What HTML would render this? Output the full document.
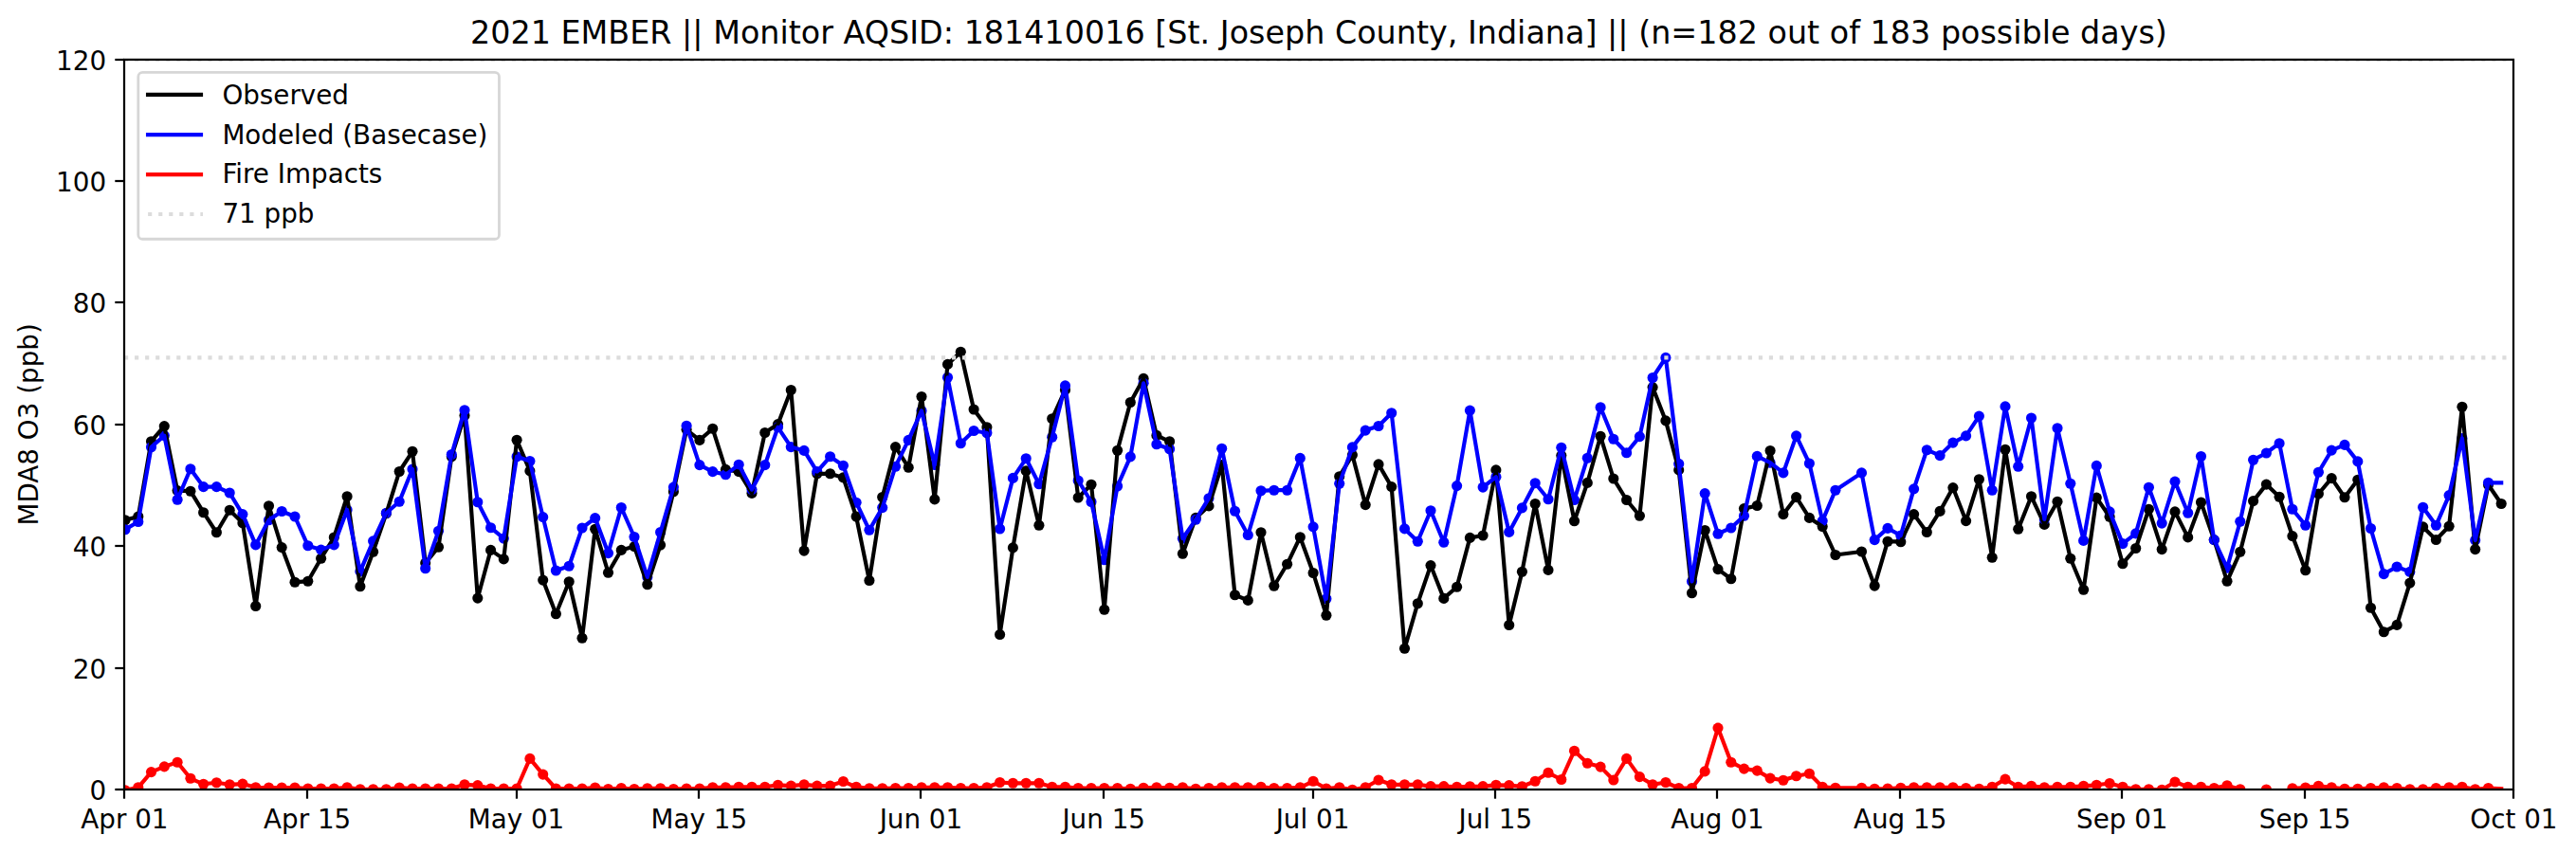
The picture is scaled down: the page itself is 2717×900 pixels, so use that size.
<!DOCTYPE html>
<html><head><meta charset="utf-8"><title>2021 EMBER MDA8 O3</title>
<style>html,body{margin:0;padding:0;background:#fff}svg{display:block}text{font-family:"DejaVu Sans","Liberation Sans",sans-serif;fill:#000}</style></head><body>
<svg width="2717" height="900" viewBox="0 0 2717 900">
<rect x="0" y="0" width="2717" height="900" fill="#fff"/>
<defs><clipPath id="ax"><rect x="131.0" y="62.8" width="2520.0" height="770.2"/></clipPath></defs>
<text x="1390.9" y="46.4" font-size="33.33" text-anchor="middle" textLength="1789.9" lengthAdjust="spacing">2021 EMBER || Monitor AQSID: 181410016 [St. Joseph County, Indiana] || (n=182 out of 183 possible days)</text>
<text transform="translate(40.3,447.9) rotate(-90)" font-size="27.78" text-anchor="middle">MDA8 O3 (ppb)</text>
<g clip-path="url(#ax)">
<circle cx="132.0" cy="548.7" r="5.56" fill="#000"/>
<circle cx="145.8" cy="545.0" r="5.56" fill="#000"/>
<circle cx="159.5" cy="465.7" r="5.56" fill="#000"/>
<circle cx="173.3" cy="449.6" r="5.56" fill="#000"/>
<circle cx="187.1" cy="517.6" r="5.56" fill="#000"/>
<circle cx="200.9" cy="518.2" r="5.56" fill="#000"/>
<circle cx="214.6" cy="540.7" r="5.56" fill="#000"/>
<circle cx="228.4" cy="561.8" r="5.56" fill="#000"/>
<circle cx="242.2" cy="538.3" r="5.56" fill="#000"/>
<circle cx="255.9" cy="551.7" r="5.56" fill="#000"/>
<circle cx="269.7" cy="639.5" r="5.56" fill="#000"/>
<circle cx="283.5" cy="533.7" r="5.56" fill="#000"/>
<circle cx="297.2" cy="577.6" r="5.56" fill="#000"/>
<circle cx="311.0" cy="614.2" r="5.56" fill="#000"/>
<circle cx="324.8" cy="613.3" r="5.56" fill="#000"/>
<circle cx="338.6" cy="589.2" r="5.56" fill="#000"/>
<circle cx="352.3" cy="567.0" r="5.56" fill="#000"/>
<circle cx="366.1" cy="523.7" r="5.56" fill="#000"/>
<circle cx="379.9" cy="618.8" r="5.56" fill="#000"/>
<circle cx="393.6" cy="582.2" r="5.56" fill="#000"/>
<circle cx="407.4" cy="541.8" r="5.56" fill="#000"/>
<circle cx="421.2" cy="497.5" r="5.56" fill="#000"/>
<circle cx="435.0" cy="476.3" r="5.56" fill="#000"/>
<circle cx="448.7" cy="594.1" r="5.56" fill="#000"/>
<circle cx="462.5" cy="577.3" r="5.56" fill="#000"/>
<circle cx="476.3" cy="481.7" r="5.56" fill="#000"/>
<circle cx="490.0" cy="438.4" r="5.56" fill="#000"/>
<circle cx="503.8" cy="631.1" r="5.56" fill="#000"/>
<circle cx="517.6" cy="580.4" r="5.56" fill="#000"/>
<circle cx="531.3" cy="589.9" r="5.56" fill="#000"/>
<circle cx="545.1" cy="464.3" r="5.56" fill="#000"/>
<circle cx="558.9" cy="496.9" r="5.56" fill="#000"/>
<circle cx="572.7" cy="612.1" r="5.56" fill="#000"/>
<circle cx="586.4" cy="647.8" r="5.56" fill="#000"/>
<circle cx="600.2" cy="613.7" r="5.56" fill="#000"/>
<circle cx="614.0" cy="673.2" r="5.56" fill="#000"/>
<circle cx="627.7" cy="558.3" r="5.56" fill="#000"/>
<circle cx="641.5" cy="604.2" r="5.56" fill="#000"/>
<circle cx="655.3" cy="580.4" r="5.56" fill="#000"/>
<circle cx="669.0" cy="576.6" r="5.56" fill="#000"/>
<circle cx="682.8" cy="616.8" r="5.56" fill="#000"/>
<circle cx="696.6" cy="575.1" r="5.56" fill="#000"/>
<circle cx="710.4" cy="518.8" r="5.56" fill="#000"/>
<circle cx="724.1" cy="453.3" r="5.56" fill="#000"/>
<circle cx="737.9" cy="464.4" r="5.56" fill="#000"/>
<circle cx="751.7" cy="452.3" r="5.56" fill="#000"/>
<circle cx="765.4" cy="495.4" r="5.56" fill="#000"/>
<circle cx="779.2" cy="497.6" r="5.56" fill="#000"/>
<circle cx="793.0" cy="520.4" r="5.56" fill="#000"/>
<circle cx="806.8" cy="456.5" r="5.56" fill="#000"/>
<circle cx="820.5" cy="447.6" r="5.56" fill="#000"/>
<circle cx="834.3" cy="411.5" r="5.56" fill="#000"/>
<circle cx="848.1" cy="581.1" r="5.56" fill="#000"/>
<circle cx="861.8" cy="499.8" r="5.56" fill="#000"/>
<circle cx="875.6" cy="499.8" r="5.56" fill="#000"/>
<circle cx="889.4" cy="503.9" r="5.56" fill="#000"/>
<circle cx="903.1" cy="545.1" r="5.56" fill="#000"/>
<circle cx="916.9" cy="612.5" r="5.56" fill="#000"/>
<circle cx="930.7" cy="524.5" r="5.56" fill="#000"/>
<circle cx="944.5" cy="471.6" r="5.56" fill="#000"/>
<circle cx="958.2" cy="493.2" r="5.56" fill="#000"/>
<circle cx="972.0" cy="418.5" r="5.56" fill="#000"/>
<circle cx="985.8" cy="526.9" r="5.56" fill="#000"/>
<circle cx="999.5" cy="384.4" r="5.56" fill="#000"/>
<circle cx="1013.3" cy="371.3" r="5.56" fill="#000"/>
<circle cx="1027.1" cy="432.0" r="5.56" fill="#000"/>
<circle cx="1040.9" cy="450.8" r="5.56" fill="#000"/>
<circle cx="1054.6" cy="669.5" r="5.56" fill="#000"/>
<circle cx="1068.4" cy="577.9" r="5.56" fill="#000"/>
<circle cx="1082.2" cy="496.9" r="5.56" fill="#000"/>
<circle cx="1095.9" cy="554.3" r="5.56" fill="#000"/>
<circle cx="1109.7" cy="441.8" r="5.56" fill="#000"/>
<circle cx="1123.5" cy="411.4" r="5.56" fill="#000"/>
<circle cx="1137.2" cy="525.0" r="5.56" fill="#000"/>
<circle cx="1151.0" cy="511.2" r="5.56" fill="#000"/>
<circle cx="1164.8" cy="643.2" r="5.56" fill="#000"/>
<circle cx="1178.6" cy="475.2" r="5.56" fill="#000"/>
<circle cx="1192.3" cy="424.5" r="5.56" fill="#000"/>
<circle cx="1206.1" cy="399.4" r="5.56" fill="#000"/>
<circle cx="1219.9" cy="459.4" r="5.56" fill="#000"/>
<circle cx="1233.6" cy="465.8" r="5.56" fill="#000"/>
<circle cx="1247.4" cy="584.3" r="5.56" fill="#000"/>
<circle cx="1261.2" cy="546.4" r="5.56" fill="#000"/>
<circle cx="1275.0" cy="533.9" r="5.56" fill="#000"/>
<circle cx="1288.7" cy="490.6" r="5.56" fill="#000"/>
<circle cx="1302.5" cy="627.8" r="5.56" fill="#000"/>
<circle cx="1316.3" cy="633.4" r="5.56" fill="#000"/>
<circle cx="1330.0" cy="561.8" r="5.56" fill="#000"/>
<circle cx="1343.8" cy="618.3" r="5.56" fill="#000"/>
<circle cx="1357.6" cy="595.3" r="5.56" fill="#000"/>
<circle cx="1371.3" cy="566.7" r="5.56" fill="#000"/>
<circle cx="1385.1" cy="604.5" r="5.56" fill="#000"/>
<circle cx="1398.9" cy="649.2" r="5.56" fill="#000"/>
<circle cx="1412.7" cy="502.7" r="5.56" fill="#000"/>
<circle cx="1426.4" cy="480.1" r="5.56" fill="#000"/>
<circle cx="1440.2" cy="532.6" r="5.56" fill="#000"/>
<circle cx="1454.0" cy="489.9" r="5.56" fill="#000"/>
<circle cx="1467.7" cy="513.6" r="5.56" fill="#000"/>
<circle cx="1481.5" cy="684.3" r="5.56" fill="#000"/>
<circle cx="1495.3" cy="636.7" r="5.56" fill="#000"/>
<circle cx="1509.0" cy="596.6" r="5.56" fill="#000"/>
<circle cx="1522.8" cy="631.4" r="5.56" fill="#000"/>
<circle cx="1536.6" cy="619.3" r="5.56" fill="#000"/>
<circle cx="1550.4" cy="567.4" r="5.56" fill="#000"/>
<circle cx="1564.1" cy="565.0" r="5.56" fill="#000"/>
<circle cx="1577.9" cy="495.9" r="5.56" fill="#000"/>
<circle cx="1591.7" cy="659.5" r="5.56" fill="#000"/>
<circle cx="1605.4" cy="603.2" r="5.56" fill="#000"/>
<circle cx="1619.2" cy="531.5" r="5.56" fill="#000"/>
<circle cx="1633.0" cy="601.4" r="5.56" fill="#000"/>
<circle cx="1646.8" cy="480.6" r="5.56" fill="#000"/>
<circle cx="1660.5" cy="549.7" r="5.56" fill="#000"/>
<circle cx="1674.3" cy="509.4" r="5.56" fill="#000"/>
<circle cx="1688.1" cy="460.3" r="5.56" fill="#000"/>
<circle cx="1701.8" cy="505.0" r="5.56" fill="#000"/>
<circle cx="1715.6" cy="527.5" r="5.56" fill="#000"/>
<circle cx="1729.4" cy="544.3" r="5.56" fill="#000"/>
<circle cx="1743.1" cy="408.6" r="5.56" fill="#000"/>
<circle cx="1756.9" cy="443.9" r="5.56" fill="#000"/>
<circle cx="1770.7" cy="495.9" r="5.56" fill="#000"/>
<circle cx="1784.5" cy="625.7" r="5.56" fill="#000"/>
<circle cx="1798.2" cy="559.5" r="5.56" fill="#000"/>
<circle cx="1812.0" cy="600.6" r="5.56" fill="#000"/>
<circle cx="1825.8" cy="610.8" r="5.56" fill="#000"/>
<circle cx="1839.5" cy="536.6" r="5.56" fill="#000"/>
<circle cx="1853.3" cy="533.5" r="5.56" fill="#000"/>
<circle cx="1867.1" cy="475.5" r="5.56" fill="#000"/>
<circle cx="1880.9" cy="542.6" r="5.56" fill="#000"/>
<circle cx="1894.6" cy="524.6" r="5.56" fill="#000"/>
<circle cx="1908.4" cy="546.4" r="5.56" fill="#000"/>
<circle cx="1922.2" cy="555.6" r="5.56" fill="#000"/>
<circle cx="1935.9" cy="585.5" r="5.56" fill="#000"/>
<circle cx="1963.5" cy="582.0" r="5.56" fill="#000"/>
<circle cx="1977.2" cy="618.1" r="5.56" fill="#000"/>
<circle cx="1991.0" cy="571.2" r="5.56" fill="#000"/>
<circle cx="2004.8" cy="571.7" r="5.56" fill="#000"/>
<circle cx="2018.6" cy="542.6" r="5.56" fill="#000"/>
<circle cx="2032.3" cy="561.5" r="5.56" fill="#000"/>
<circle cx="2046.1" cy="539.4" r="5.56" fill="#000"/>
<circle cx="2059.9" cy="514.6" r="5.56" fill="#000"/>
<circle cx="2073.6" cy="549.6" r="5.56" fill="#000"/>
<circle cx="2087.4" cy="505.7" r="5.56" fill="#000"/>
<circle cx="2101.2" cy="588.2" r="5.56" fill="#000"/>
<circle cx="2115.0" cy="474.2" r="5.56" fill="#000"/>
<circle cx="2128.7" cy="558.2" r="5.56" fill="#000"/>
<circle cx="2142.5" cy="523.8" r="5.56" fill="#000"/>
<circle cx="2156.3" cy="553.4" r="5.56" fill="#000"/>
<circle cx="2170.0" cy="529.2" r="5.56" fill="#000"/>
<circle cx="2183.8" cy="589.3" r="5.56" fill="#000"/>
<circle cx="2197.6" cy="622.2" r="5.56" fill="#000"/>
<circle cx="2211.3" cy="525.1" r="5.56" fill="#000"/>
<circle cx="2225.1" cy="545.3" r="5.56" fill="#000"/>
<circle cx="2238.9" cy="594.7" r="5.56" fill="#000"/>
<circle cx="2252.7" cy="578.5" r="5.56" fill="#000"/>
<circle cx="2266.4" cy="537.3" r="5.56" fill="#000"/>
<circle cx="2280.2" cy="579.6" r="5.56" fill="#000"/>
<circle cx="2294.0" cy="539.9" r="5.56" fill="#000"/>
<circle cx="2307.7" cy="566.9" r="5.56" fill="#000"/>
<circle cx="2321.5" cy="530.0" r="5.56" fill="#000"/>
<circle cx="2335.3" cy="569.6" r="5.56" fill="#000"/>
<circle cx="2349.0" cy="613.3" r="5.56" fill="#000"/>
<circle cx="2362.8" cy="582.3" r="5.56" fill="#000"/>
<circle cx="2376.6" cy="528.6" r="5.56" fill="#000"/>
<circle cx="2390.4" cy="511.1" r="5.56" fill="#000"/>
<circle cx="2404.1" cy="524.3" r="5.56" fill="#000"/>
<circle cx="2417.9" cy="565.6" r="5.56" fill="#000"/>
<circle cx="2431.7" cy="601.8" r="5.56" fill="#000"/>
<circle cx="2445.4" cy="521.0" r="5.56" fill="#000"/>
<circle cx="2459.2" cy="504.6" r="5.56" fill="#000"/>
<circle cx="2473.0" cy="524.8" r="5.56" fill="#000"/>
<circle cx="2486.8" cy="506.2" r="5.56" fill="#000"/>
<circle cx="2500.5" cy="641.3" r="5.56" fill="#000"/>
<circle cx="2514.3" cy="666.7" r="5.56" fill="#000"/>
<circle cx="2528.1" cy="659.4" r="5.56" fill="#000"/>
<circle cx="2541.8" cy="615.1" r="5.56" fill="#000"/>
<circle cx="2555.6" cy="555.9" r="5.56" fill="#000"/>
<circle cx="2569.4" cy="569.5" r="5.56" fill="#000"/>
<circle cx="2583.1" cy="555.2" r="5.56" fill="#000"/>
<circle cx="2596.9" cy="429.2" r="5.56" fill="#000"/>
<circle cx="2610.7" cy="579.6" r="5.56" fill="#000"/>
<circle cx="2624.5" cy="511.5" r="5.56" fill="#000"/>
<circle cx="2638.2" cy="531.5" r="5.56" fill="#000"/>
<circle cx="132.0" cy="558.7" r="5.56" fill="#0000ff"/>
<circle cx="145.8" cy="550.5" r="5.56" fill="#0000ff"/>
<circle cx="159.5" cy="471.8" r="5.56" fill="#0000ff"/>
<circle cx="173.3" cy="459.6" r="5.56" fill="#0000ff"/>
<circle cx="187.1" cy="527.3" r="5.56" fill="#0000ff"/>
<circle cx="200.9" cy="494.7" r="5.56" fill="#0000ff"/>
<circle cx="214.6" cy="513.6" r="5.56" fill="#0000ff"/>
<circle cx="228.4" cy="513.6" r="5.56" fill="#0000ff"/>
<circle cx="242.2" cy="520.0" r="5.56" fill="#0000ff"/>
<circle cx="255.9" cy="542.6" r="5.56" fill="#0000ff"/>
<circle cx="269.7" cy="574.9" r="5.56" fill="#0000ff"/>
<circle cx="283.5" cy="548.7" r="5.56" fill="#0000ff"/>
<circle cx="297.2" cy="539.5" r="5.56" fill="#0000ff"/>
<circle cx="311.0" cy="545.0" r="5.56" fill="#0000ff"/>
<circle cx="324.8" cy="575.8" r="5.56" fill="#0000ff"/>
<circle cx="338.6" cy="580.1" r="5.56" fill="#0000ff"/>
<circle cx="352.3" cy="574.9" r="5.56" fill="#0000ff"/>
<circle cx="366.1" cy="538.0" r="5.56" fill="#0000ff"/>
<circle cx="379.9" cy="602.9" r="5.56" fill="#0000ff"/>
<circle cx="393.6" cy="570.9" r="5.56" fill="#0000ff"/>
<circle cx="407.4" cy="541.2" r="5.56" fill="#0000ff"/>
<circle cx="421.2" cy="529.2" r="5.56" fill="#0000ff"/>
<circle cx="435.0" cy="495.0" r="5.56" fill="#0000ff"/>
<circle cx="448.7" cy="599.7" r="5.56" fill="#0000ff"/>
<circle cx="462.5" cy="560.2" r="5.56" fill="#0000ff"/>
<circle cx="476.3" cy="479.5" r="5.56" fill="#0000ff"/>
<circle cx="490.0" cy="432.7" r="5.56" fill="#0000ff"/>
<circle cx="503.8" cy="529.8" r="5.56" fill="#0000ff"/>
<circle cx="517.6" cy="556.7" r="5.56" fill="#0000ff"/>
<circle cx="531.3" cy="568.1" r="5.56" fill="#0000ff"/>
<circle cx="545.1" cy="481.7" r="5.56" fill="#0000ff"/>
<circle cx="558.9" cy="486.5" r="5.56" fill="#0000ff"/>
<circle cx="572.7" cy="545.6" r="5.56" fill="#0000ff"/>
<circle cx="586.4" cy="602.0" r="5.56" fill="#0000ff"/>
<circle cx="600.2" cy="597.2" r="5.56" fill="#0000ff"/>
<circle cx="614.0" cy="557.0" r="5.56" fill="#0000ff"/>
<circle cx="627.7" cy="546.6" r="5.56" fill="#0000ff"/>
<circle cx="641.5" cy="583.6" r="5.56" fill="#0000ff"/>
<circle cx="655.3" cy="535.5" r="5.56" fill="#0000ff"/>
<circle cx="669.0" cy="566.5" r="5.56" fill="#0000ff"/>
<circle cx="682.8" cy="608.9" r="5.56" fill="#0000ff"/>
<circle cx="696.6" cy="561.5" r="5.56" fill="#0000ff"/>
<circle cx="710.4" cy="514.1" r="5.56" fill="#0000ff"/>
<circle cx="724.1" cy="449.2" r="5.56" fill="#0000ff"/>
<circle cx="737.9" cy="490.6" r="5.56" fill="#0000ff"/>
<circle cx="751.7" cy="497.6" r="5.56" fill="#0000ff"/>
<circle cx="765.4" cy="500.8" r="5.56" fill="#0000ff"/>
<circle cx="779.2" cy="490.3" r="5.56" fill="#0000ff"/>
<circle cx="793.0" cy="516.6" r="5.56" fill="#0000ff"/>
<circle cx="806.8" cy="490.6" r="5.56" fill="#0000ff"/>
<circle cx="820.5" cy="450.8" r="5.56" fill="#0000ff"/>
<circle cx="834.3" cy="471.6" r="5.56" fill="#0000ff"/>
<circle cx="848.1" cy="475.4" r="5.56" fill="#0000ff"/>
<circle cx="861.8" cy="497.6" r="5.56" fill="#0000ff"/>
<circle cx="875.6" cy="481.8" r="5.56" fill="#0000ff"/>
<circle cx="889.4" cy="491.3" r="5.56" fill="#0000ff"/>
<circle cx="903.1" cy="530.2" r="5.56" fill="#0000ff"/>
<circle cx="916.9" cy="559.3" r="5.56" fill="#0000ff"/>
<circle cx="930.7" cy="535.6" r="5.56" fill="#0000ff"/>
<circle cx="944.5" cy="492.2" r="5.56" fill="#0000ff"/>
<circle cx="958.2" cy="464.4" r="5.56" fill="#0000ff"/>
<circle cx="972.0" cy="433.4" r="5.56" fill="#0000ff"/>
<circle cx="985.8" cy="490.5" r="5.56" fill="#0000ff"/>
<circle cx="999.5" cy="398.3" r="5.56" fill="#0000ff"/>
<circle cx="1013.3" cy="467.7" r="5.56" fill="#0000ff"/>
<circle cx="1027.1" cy="454.5" r="5.56" fill="#0000ff"/>
<circle cx="1040.9" cy="456.8" r="5.56" fill="#0000ff"/>
<circle cx="1054.6" cy="558.0" r="5.56" fill="#0000ff"/>
<circle cx="1068.4" cy="504.4" r="5.56" fill="#0000ff"/>
<circle cx="1082.2" cy="483.8" r="5.56" fill="#0000ff"/>
<circle cx="1095.9" cy="510.8" r="5.56" fill="#0000ff"/>
<circle cx="1109.7" cy="461.3" r="5.56" fill="#0000ff"/>
<circle cx="1123.5" cy="406.9" r="5.56" fill="#0000ff"/>
<circle cx="1137.2" cy="507.0" r="5.56" fill="#0000ff"/>
<circle cx="1151.0" cy="529.5" r="5.56" fill="#0000ff"/>
<circle cx="1164.8" cy="590.7" r="5.56" fill="#0000ff"/>
<circle cx="1178.6" cy="513.0" r="5.56" fill="#0000ff"/>
<circle cx="1192.3" cy="481.9" r="5.56" fill="#0000ff"/>
<circle cx="1206.1" cy="404.3" r="5.56" fill="#0000ff"/>
<circle cx="1219.9" cy="468.8" r="5.56" fill="#0000ff"/>
<circle cx="1233.6" cy="473.7" r="5.56" fill="#0000ff"/>
<circle cx="1247.4" cy="568.2" r="5.56" fill="#0000ff"/>
<circle cx="1261.2" cy="548.3" r="5.56" fill="#0000ff"/>
<circle cx="1275.0" cy="525.7" r="5.56" fill="#0000ff"/>
<circle cx="1288.7" cy="473.2" r="5.56" fill="#0000ff"/>
<circle cx="1302.5" cy="539.2" r="5.56" fill="#0000ff"/>
<circle cx="1316.3" cy="564.5" r="5.56" fill="#0000ff"/>
<circle cx="1330.0" cy="517.8" r="5.56" fill="#0000ff"/>
<circle cx="1343.8" cy="517.2" r="5.56" fill="#0000ff"/>
<circle cx="1357.6" cy="517.2" r="5.56" fill="#0000ff"/>
<circle cx="1371.3" cy="483.4" r="5.56" fill="#0000ff"/>
<circle cx="1385.1" cy="555.9" r="5.56" fill="#0000ff"/>
<circle cx="1398.9" cy="631.8" r="5.56" fill="#0000ff"/>
<circle cx="1412.7" cy="510.3" r="5.56" fill="#0000ff"/>
<circle cx="1426.4" cy="471.9" r="5.56" fill="#0000ff"/>
<circle cx="1440.2" cy="454.1" r="5.56" fill="#0000ff"/>
<circle cx="1454.0" cy="449.5" r="5.56" fill="#0000ff"/>
<circle cx="1467.7" cy="435.8" r="5.56" fill="#0000ff"/>
<circle cx="1481.5" cy="557.9" r="5.56" fill="#0000ff"/>
<circle cx="1495.3" cy="571.3" r="5.56" fill="#0000ff"/>
<circle cx="1509.0" cy="538.8" r="5.56" fill="#0000ff"/>
<circle cx="1522.8" cy="572.3" r="5.56" fill="#0000ff"/>
<circle cx="1536.6" cy="512.6" r="5.56" fill="#0000ff"/>
<circle cx="1550.4" cy="433.1" r="5.56" fill="#0000ff"/>
<circle cx="1564.1" cy="514.1" r="5.56" fill="#0000ff"/>
<circle cx="1577.9" cy="503.2" r="5.56" fill="#0000ff"/>
<circle cx="1591.7" cy="561.4" r="5.56" fill="#0000ff"/>
<circle cx="1605.4" cy="535.9" r="5.56" fill="#0000ff"/>
<circle cx="1619.2" cy="509.7" r="5.56" fill="#0000ff"/>
<circle cx="1633.0" cy="526.8" r="5.56" fill="#0000ff"/>
<circle cx="1646.8" cy="472.3" r="5.56" fill="#0000ff"/>
<circle cx="1660.5" cy="527.5" r="5.56" fill="#0000ff"/>
<circle cx="1674.3" cy="483.2" r="5.56" fill="#0000ff"/>
<circle cx="1688.1" cy="429.7" r="5.56" fill="#0000ff"/>
<circle cx="1701.8" cy="463.2" r="5.56" fill="#0000ff"/>
<circle cx="1715.6" cy="477.7" r="5.56" fill="#0000ff"/>
<circle cx="1729.4" cy="460.6" r="5.56" fill="#0000ff"/>
<circle cx="1743.1" cy="398.5" r="5.56" fill="#0000ff"/>
<circle cx="1756.9" cy="377.4" r="5.56" fill="#0000ff"/>
<circle cx="1770.7" cy="489.4" r="5.56" fill="#0000ff"/>
<circle cx="1784.5" cy="613.4" r="5.56" fill="#0000ff"/>
<circle cx="1798.2" cy="520.6" r="5.56" fill="#0000ff"/>
<circle cx="1812.0" cy="563.2" r="5.56" fill="#0000ff"/>
<circle cx="1825.8" cy="557.0" r="5.56" fill="#0000ff"/>
<circle cx="1839.5" cy="544.3" r="5.56" fill="#0000ff"/>
<circle cx="1853.3" cy="481.4" r="5.56" fill="#0000ff"/>
<circle cx="1867.1" cy="488.2" r="5.56" fill="#0000ff"/>
<circle cx="1880.9" cy="498.9" r="5.56" fill="#0000ff"/>
<circle cx="1894.6" cy="459.9" r="5.56" fill="#0000ff"/>
<circle cx="1908.4" cy="489.0" r="5.56" fill="#0000ff"/>
<circle cx="1922.2" cy="549.6" r="5.56" fill="#0000ff"/>
<circle cx="1935.9" cy="517.3" r="5.56" fill="#0000ff"/>
<circle cx="1963.5" cy="498.9" r="5.56" fill="#0000ff"/>
<circle cx="1977.2" cy="569.6" r="5.56" fill="#0000ff"/>
<circle cx="1991.0" cy="557.4" r="5.56" fill="#0000ff"/>
<circle cx="2004.8" cy="565.0" r="5.56" fill="#0000ff"/>
<circle cx="2018.6" cy="515.9" r="5.56" fill="#0000ff"/>
<circle cx="2032.3" cy="474.7" r="5.56" fill="#0000ff"/>
<circle cx="2046.1" cy="480.6" r="5.56" fill="#0000ff"/>
<circle cx="2059.9" cy="467.1" r="5.56" fill="#0000ff"/>
<circle cx="2073.6" cy="459.9" r="5.56" fill="#0000ff"/>
<circle cx="2087.4" cy="439.1" r="5.56" fill="#0000ff"/>
<circle cx="2101.2" cy="517.3" r="5.56" fill="#0000ff"/>
<circle cx="2115.0" cy="428.9" r="5.56" fill="#0000ff"/>
<circle cx="2128.7" cy="492.2" r="5.56" fill="#0000ff"/>
<circle cx="2142.5" cy="441.0" r="5.56" fill="#0000ff"/>
<circle cx="2156.3" cy="548.0" r="5.56" fill="#0000ff"/>
<circle cx="2170.0" cy="451.8" r="5.56" fill="#0000ff"/>
<circle cx="2183.8" cy="510.3" r="5.56" fill="#0000ff"/>
<circle cx="2197.6" cy="570.4" r="5.56" fill="#0000ff"/>
<circle cx="2211.3" cy="491.4" r="5.56" fill="#0000ff"/>
<circle cx="2225.1" cy="539.9" r="5.56" fill="#0000ff"/>
<circle cx="2238.9" cy="573.6" r="5.56" fill="#0000ff"/>
<circle cx="2252.7" cy="562.9" r="5.56" fill="#0000ff"/>
<circle cx="2266.4" cy="514.3" r="5.56" fill="#0000ff"/>
<circle cx="2280.2" cy="552.1" r="5.56" fill="#0000ff"/>
<circle cx="2294.0" cy="508.1" r="5.56" fill="#0000ff"/>
<circle cx="2307.7" cy="541.3" r="5.56" fill="#0000ff"/>
<circle cx="2321.5" cy="481.5" r="5.56" fill="#0000ff"/>
<circle cx="2335.3" cy="569.6" r="5.56" fill="#0000ff"/>
<circle cx="2349.0" cy="599.2" r="5.56" fill="#0000ff"/>
<circle cx="2362.8" cy="550.2" r="5.56" fill="#0000ff"/>
<circle cx="2376.6" cy="485.2" r="5.56" fill="#0000ff"/>
<circle cx="2390.4" cy="478.0" r="5.56" fill="#0000ff"/>
<circle cx="2404.1" cy="467.7" r="5.56" fill="#0000ff"/>
<circle cx="2417.9" cy="537.3" r="5.56" fill="#0000ff"/>
<circle cx="2431.7" cy="554.3" r="5.56" fill="#0000ff"/>
<circle cx="2445.4" cy="498.3" r="5.56" fill="#0000ff"/>
<circle cx="2459.2" cy="475.1" r="5.56" fill="#0000ff"/>
<circle cx="2473.0" cy="469.4" r="5.56" fill="#0000ff"/>
<circle cx="2486.8" cy="486.9" r="5.56" fill="#0000ff"/>
<circle cx="2500.5" cy="557.5" r="5.56" fill="#0000ff"/>
<circle cx="2514.3" cy="605.6" r="5.56" fill="#0000ff"/>
<circle cx="2528.1" cy="598.0" r="5.56" fill="#0000ff"/>
<circle cx="2541.8" cy="603.4" r="5.56" fill="#0000ff"/>
<circle cx="2555.6" cy="535.3" r="5.56" fill="#0000ff"/>
<circle cx="2569.4" cy="554.3" r="5.56" fill="#0000ff"/>
<circle cx="2583.1" cy="522.6" r="5.56" fill="#0000ff"/>
<circle cx="2596.9" cy="462.5" r="5.56" fill="#0000ff"/>
<circle cx="2610.7" cy="570.1" r="5.56" fill="#0000ff"/>
<circle cx="2624.5" cy="509.3" r="5.56" fill="#0000ff"/>
<circle cx="132.0" cy="833.8" r="5.56" fill="#ff0000"/>
<circle cx="145.8" cy="830.8" r="5.56" fill="#ff0000"/>
<circle cx="159.5" cy="814.6" r="5.56" fill="#ff0000"/>
<circle cx="173.3" cy="808.9" r="5.56" fill="#ff0000"/>
<circle cx="187.1" cy="804.2" r="5.56" fill="#ff0000"/>
<circle cx="200.9" cy="821.3" r="5.56" fill="#ff0000"/>
<circle cx="214.6" cy="827.3" r="5.56" fill="#ff0000"/>
<circle cx="228.4" cy="825.8" r="5.56" fill="#ff0000"/>
<circle cx="242.2" cy="827.8" r="5.56" fill="#ff0000"/>
<circle cx="255.9" cy="827.1" r="5.56" fill="#ff0000"/>
<circle cx="269.7" cy="830.8" r="5.56" fill="#ff0000"/>
<circle cx="283.5" cy="831.0" r="5.56" fill="#ff0000"/>
<circle cx="297.2" cy="831.0" r="5.56" fill="#ff0000"/>
<circle cx="311.0" cy="831.0" r="5.56" fill="#ff0000"/>
<circle cx="324.8" cy="832.0" r="5.56" fill="#ff0000"/>
<circle cx="338.6" cy="832.0" r="5.56" fill="#ff0000"/>
<circle cx="352.3" cy="832.0" r="5.56" fill="#ff0000"/>
<circle cx="366.1" cy="830.8" r="5.56" fill="#ff0000"/>
<circle cx="379.9" cy="832.8" r="5.56" fill="#ff0000"/>
<circle cx="393.6" cy="832.8" r="5.56" fill="#ff0000"/>
<circle cx="407.4" cy="832.8" r="5.56" fill="#ff0000"/>
<circle cx="421.2" cy="831.0" r="5.56" fill="#ff0000"/>
<circle cx="435.0" cy="832.0" r="5.56" fill="#ff0000"/>
<circle cx="448.7" cy="832.0" r="5.56" fill="#ff0000"/>
<circle cx="462.5" cy="832.0" r="5.56" fill="#ff0000"/>
<circle cx="476.3" cy="832.0" r="5.56" fill="#ff0000"/>
<circle cx="490.0" cy="827.8" r="5.56" fill="#ff0000"/>
<circle cx="503.8" cy="828.6" r="5.56" fill="#ff0000"/>
<circle cx="517.6" cy="832.0" r="5.56" fill="#ff0000"/>
<circle cx="531.3" cy="832.0" r="5.56" fill="#ff0000"/>
<circle cx="545.1" cy="832.0" r="5.56" fill="#ff0000"/>
<circle cx="558.9" cy="800.4" r="5.56" fill="#ff0000"/>
<circle cx="572.7" cy="817.1" r="5.56" fill="#ff0000"/>
<circle cx="586.4" cy="832.0" r="5.56" fill="#ff0000"/>
<circle cx="600.2" cy="832.0" r="5.56" fill="#ff0000"/>
<circle cx="614.0" cy="832.0" r="5.56" fill="#ff0000"/>
<circle cx="627.7" cy="831.0" r="5.56" fill="#ff0000"/>
<circle cx="641.5" cy="832.5" r="5.56" fill="#ff0000"/>
<circle cx="655.3" cy="831.5" r="5.56" fill="#ff0000"/>
<circle cx="669.0" cy="832.5" r="5.56" fill="#ff0000"/>
<circle cx="682.8" cy="831.8" r="5.56" fill="#ff0000"/>
<circle cx="696.6" cy="831.8" r="5.56" fill="#ff0000"/>
<circle cx="710.4" cy="832.5" r="5.56" fill="#ff0000"/>
<circle cx="724.1" cy="832.0" r="5.56" fill="#ff0000"/>
<circle cx="737.9" cy="832.0" r="5.56" fill="#ff0000"/>
<circle cx="751.7" cy="830.8" r="5.56" fill="#ff0000"/>
<circle cx="765.4" cy="830.8" r="5.56" fill="#ff0000"/>
<circle cx="779.2" cy="830.3" r="5.56" fill="#ff0000"/>
<circle cx="793.0" cy="830.3" r="5.56" fill="#ff0000"/>
<circle cx="806.8" cy="830.3" r="5.56" fill="#ff0000"/>
<circle cx="820.5" cy="828.3" r="5.56" fill="#ff0000"/>
<circle cx="834.3" cy="829.1" r="5.56" fill="#ff0000"/>
<circle cx="848.1" cy="827.8" r="5.56" fill="#ff0000"/>
<circle cx="861.8" cy="829.1" r="5.56" fill="#ff0000"/>
<circle cx="875.6" cy="829.1" r="5.56" fill="#ff0000"/>
<circle cx="889.4" cy="824.5" r="5.56" fill="#ff0000"/>
<circle cx="903.1" cy="830.3" r="5.56" fill="#ff0000"/>
<circle cx="916.9" cy="831.8" r="5.56" fill="#ff0000"/>
<circle cx="930.7" cy="831.8" r="5.56" fill="#ff0000"/>
<circle cx="944.5" cy="831.5" r="5.56" fill="#ff0000"/>
<circle cx="958.2" cy="831.5" r="5.56" fill="#ff0000"/>
<circle cx="972.0" cy="830.8" r="5.56" fill="#ff0000"/>
<circle cx="985.8" cy="830.8" r="5.56" fill="#ff0000"/>
<circle cx="999.5" cy="830.8" r="5.56" fill="#ff0000"/>
<circle cx="1013.3" cy="831.5" r="5.56" fill="#ff0000"/>
<circle cx="1027.1" cy="831.5" r="5.56" fill="#ff0000"/>
<circle cx="1040.9" cy="830.8" r="5.56" fill="#ff0000"/>
<circle cx="1054.6" cy="825.5" r="5.56" fill="#ff0000"/>
<circle cx="1068.4" cy="826.3" r="5.56" fill="#ff0000"/>
<circle cx="1082.2" cy="826.3" r="5.56" fill="#ff0000"/>
<circle cx="1095.9" cy="826.3" r="5.56" fill="#ff0000"/>
<circle cx="1109.7" cy="830.3" r="5.56" fill="#ff0000"/>
<circle cx="1123.5" cy="830.3" r="5.56" fill="#ff0000"/>
<circle cx="1137.2" cy="831.5" r="5.56" fill="#ff0000"/>
<circle cx="1151.0" cy="831.5" r="5.56" fill="#ff0000"/>
<circle cx="1164.8" cy="831.5" r="5.56" fill="#ff0000"/>
<circle cx="1178.6" cy="831.5" r="5.56" fill="#ff0000"/>
<circle cx="1192.3" cy="832.3" r="5.56" fill="#ff0000"/>
<circle cx="1206.1" cy="831.3" r="5.56" fill="#ff0000"/>
<circle cx="1219.9" cy="830.8" r="5.56" fill="#ff0000"/>
<circle cx="1233.6" cy="831.3" r="5.56" fill="#ff0000"/>
<circle cx="1247.4" cy="830.8" r="5.56" fill="#ff0000"/>
<circle cx="1261.2" cy="832.3" r="5.56" fill="#ff0000"/>
<circle cx="1275.0" cy="831.5" r="5.56" fill="#ff0000"/>
<circle cx="1288.7" cy="830.8" r="5.56" fill="#ff0000"/>
<circle cx="1302.5" cy="830.8" r="5.56" fill="#ff0000"/>
<circle cx="1316.3" cy="830.8" r="5.56" fill="#ff0000"/>
<circle cx="1330.0" cy="830.3" r="5.56" fill="#ff0000"/>
<circle cx="1343.8" cy="831.5" r="5.56" fill="#ff0000"/>
<circle cx="1357.6" cy="831.5" r="5.56" fill="#ff0000"/>
<circle cx="1371.3" cy="830.8" r="5.56" fill="#ff0000"/>
<circle cx="1385.1" cy="824.3" r="5.56" fill="#ff0000"/>
<circle cx="1398.9" cy="832.0" r="5.56" fill="#ff0000"/>
<circle cx="1412.7" cy="830.8" r="5.56" fill="#ff0000"/>
<circle cx="1426.4" cy="833.3" r="5.56" fill="#ff0000"/>
<circle cx="1440.2" cy="830.8" r="5.56" fill="#ff0000"/>
<circle cx="1454.0" cy="823.0" r="5.56" fill="#ff0000"/>
<circle cx="1467.7" cy="827.8" r="5.56" fill="#ff0000"/>
<circle cx="1481.5" cy="827.8" r="5.56" fill="#ff0000"/>
<circle cx="1495.3" cy="827.8" r="5.56" fill="#ff0000"/>
<circle cx="1509.0" cy="829.6" r="5.56" fill="#ff0000"/>
<circle cx="1522.8" cy="829.6" r="5.56" fill="#ff0000"/>
<circle cx="1536.6" cy="830.3" r="5.56" fill="#ff0000"/>
<circle cx="1550.4" cy="829.8" r="5.56" fill="#ff0000"/>
<circle cx="1564.1" cy="829.6" r="5.56" fill="#ff0000"/>
<circle cx="1577.9" cy="828.3" r="5.56" fill="#ff0000"/>
<circle cx="1591.7" cy="828.6" r="5.56" fill="#ff0000"/>
<circle cx="1605.4" cy="829.8" r="5.56" fill="#ff0000"/>
<circle cx="1619.2" cy="824.3" r="5.56" fill="#ff0000"/>
<circle cx="1633.0" cy="815.3" r="5.56" fill="#ff0000"/>
<circle cx="1646.8" cy="822.5" r="5.56" fill="#ff0000"/>
<circle cx="1660.5" cy="792.2" r="5.56" fill="#ff0000"/>
<circle cx="1674.3" cy="805.2" r="5.56" fill="#ff0000"/>
<circle cx="1688.1" cy="809.1" r="5.56" fill="#ff0000"/>
<circle cx="1701.8" cy="823.0" r="5.56" fill="#ff0000"/>
<circle cx="1715.6" cy="800.4" r="5.56" fill="#ff0000"/>
<circle cx="1729.4" cy="819.6" r="5.56" fill="#ff0000"/>
<circle cx="1743.1" cy="827.8" r="5.56" fill="#ff0000"/>
<circle cx="1756.9" cy="825.5" r="5.56" fill="#ff0000"/>
<circle cx="1770.7" cy="831.5" r="5.56" fill="#ff0000"/>
<circle cx="1784.5" cy="831.5" r="5.56" fill="#ff0000"/>
<circle cx="1798.2" cy="813.9" r="5.56" fill="#ff0000"/>
<circle cx="1812.0" cy="768.1" r="5.56" fill="#ff0000"/>
<circle cx="1825.8" cy="804.2" r="5.56" fill="#ff0000"/>
<circle cx="1839.5" cy="811.1" r="5.56" fill="#ff0000"/>
<circle cx="1853.3" cy="813.1" r="5.56" fill="#ff0000"/>
<circle cx="1867.1" cy="821.1" r="5.56" fill="#ff0000"/>
<circle cx="1880.9" cy="823.3" r="5.56" fill="#ff0000"/>
<circle cx="1894.6" cy="818.8" r="5.56" fill="#ff0000"/>
<circle cx="1908.4" cy="816.3" r="5.56" fill="#ff0000"/>
<circle cx="1922.2" cy="830.3" r="5.56" fill="#ff0000"/>
<circle cx="1935.9" cy="831.3" r="5.56" fill="#ff0000"/>
<circle cx="1963.5" cy="831.3" r="5.56" fill="#ff0000"/>
<circle cx="1977.2" cy="832.3" r="5.56" fill="#ff0000"/>
<circle cx="1991.0" cy="832.0" r="5.56" fill="#ff0000"/>
<circle cx="2004.8" cy="831.3" r="5.56" fill="#ff0000"/>
<circle cx="2018.6" cy="830.8" r="5.56" fill="#ff0000"/>
<circle cx="2032.3" cy="830.8" r="5.56" fill="#ff0000"/>
<circle cx="2046.1" cy="830.8" r="5.56" fill="#ff0000"/>
<circle cx="2059.9" cy="830.8" r="5.56" fill="#ff0000"/>
<circle cx="2073.6" cy="831.5" r="5.56" fill="#ff0000"/>
<circle cx="2087.4" cy="832.3" r="5.56" fill="#ff0000"/>
<circle cx="2101.2" cy="830.3" r="5.56" fill="#ff0000"/>
<circle cx="2115.0" cy="822.1" r="5.56" fill="#ff0000"/>
<circle cx="2128.7" cy="830.3" r="5.56" fill="#ff0000"/>
<circle cx="2142.5" cy="829.3" r="5.56" fill="#ff0000"/>
<circle cx="2156.3" cy="830.8" r="5.56" fill="#ff0000"/>
<circle cx="2170.0" cy="830.3" r="5.56" fill="#ff0000"/>
<circle cx="2183.8" cy="830.3" r="5.56" fill="#ff0000"/>
<circle cx="2197.6" cy="829.3" r="5.56" fill="#ff0000"/>
<circle cx="2211.3" cy="828.3" r="5.56" fill="#ff0000"/>
<circle cx="2225.1" cy="826.5" r="5.56" fill="#ff0000"/>
<circle cx="2238.9" cy="830.3" r="5.56" fill="#ff0000"/>
<circle cx="2252.7" cy="832.8" r="5.56" fill="#ff0000"/>
<circle cx="2266.4" cy="832.8" r="5.56" fill="#ff0000"/>
<circle cx="2280.2" cy="833.3" r="5.56" fill="#ff0000"/>
<circle cx="2294.0" cy="825.0" r="5.56" fill="#ff0000"/>
<circle cx="2307.7" cy="830.3" r="5.56" fill="#ff0000"/>
<circle cx="2321.5" cy="830.3" r="5.56" fill="#ff0000"/>
<circle cx="2335.3" cy="831.5" r="5.56" fill="#ff0000"/>
<circle cx="2349.0" cy="828.8" r="5.56" fill="#ff0000"/>
<circle cx="2362.8" cy="832.8" r="5.56" fill="#ff0000"/>
<circle cx="2390.4" cy="833.0" r="5.56" fill="#ff0000"/>
<circle cx="2417.9" cy="831.8" r="5.56" fill="#ff0000"/>
<circle cx="2431.7" cy="831.0" r="5.56" fill="#ff0000"/>
<circle cx="2445.4" cy="829.3" r="5.56" fill="#ff0000"/>
<circle cx="2459.2" cy="830.8" r="5.56" fill="#ff0000"/>
<circle cx="2473.0" cy="832.3" r="5.56" fill="#ff0000"/>
<circle cx="2486.8" cy="832.3" r="5.56" fill="#ff0000"/>
<circle cx="2500.5" cy="831.5" r="5.56" fill="#ff0000"/>
<circle cx="2514.3" cy="830.8" r="5.56" fill="#ff0000"/>
<circle cx="2528.1" cy="831.5" r="5.56" fill="#ff0000"/>
<circle cx="2541.8" cy="832.8" r="5.56" fill="#ff0000"/>
<circle cx="2555.6" cy="832.8" r="5.56" fill="#ff0000"/>
<circle cx="2569.4" cy="831.5" r="5.56" fill="#ff0000"/>
<circle cx="2583.1" cy="830.8" r="5.56" fill="#ff0000"/>
<circle cx="2596.9" cy="830.3" r="5.56" fill="#ff0000"/>
<circle cx="2610.7" cy="832.8" r="5.56" fill="#ff0000"/>
<circle cx="2624.5" cy="831.5" r="5.56" fill="#ff0000"/>
<polyline points="132.0,548.7 145.8,545.0 159.5,465.7 173.3,449.6 187.1,517.6 200.9,518.2 214.6,540.7 228.4,561.8 242.2,538.3 255.9,551.7 269.7,639.5 283.5,533.7 297.2,577.6 311.0,614.2 324.8,613.3 338.6,589.2 352.3,567.0 366.1,523.7 379.9,618.8 393.6,582.2 407.4,541.8 421.2,497.5 435.0,476.3 448.7,594.1 462.5,577.3 476.3,481.7 490.0,438.4 503.8,631.1 517.6,580.4 531.3,589.9 545.1,464.3 558.9,496.9 572.7,612.1 586.4,647.8 600.2,613.7 614.0,673.2 627.7,558.3 641.5,604.2 655.3,580.4 669.0,576.6 682.8,616.8 696.6,575.1 710.4,518.8 724.1,453.3 737.9,464.4 751.7,452.3 765.4,495.4 779.2,497.6 793.0,520.4 806.8,456.5 820.5,447.6 834.3,411.5 848.1,581.1 861.8,499.8 875.6,499.8 889.4,503.9 903.1,545.1 916.9,612.5 930.7,524.5 944.5,471.6 958.2,493.2 972.0,418.5 985.8,526.9 999.5,384.4 1013.3,371.3 1027.1,432.0 1040.9,450.8 1054.6,669.5 1068.4,577.9 1082.2,496.9 1095.9,554.3 1109.7,441.8 1123.5,411.4 1137.2,525.0 1151.0,511.2 1164.8,643.2 1178.6,475.2 1192.3,424.5 1206.1,399.4 1219.9,459.4 1233.6,465.8 1247.4,584.3 1261.2,546.4 1275.0,533.9 1288.7,490.6 1302.5,627.8 1316.3,633.4 1330.0,561.8 1343.8,618.3 1357.6,595.3 1371.3,566.7 1385.1,604.5 1398.9,649.2 1412.7,502.7 1426.4,480.1 1440.2,532.6 1454.0,489.9 1467.7,513.6 1481.5,684.3 1495.3,636.7 1509.0,596.6 1522.8,631.4 1536.6,619.3 1550.4,567.4 1564.1,565.0 1577.9,495.9 1591.7,659.5 1605.4,603.2 1619.2,531.5 1633.0,601.4 1646.8,480.6 1660.5,549.7 1674.3,509.4 1688.1,460.3 1701.8,505.0 1715.6,527.5 1729.4,544.3 1743.1,408.6 1756.9,443.9 1770.7,495.9 1784.5,625.7 1798.2,559.5 1812.0,600.6 1825.8,610.8 1839.5,536.6 1853.3,533.5 1867.1,475.5 1880.9,542.6 1894.6,524.6 1908.4,546.4 1922.2,555.6 1935.9,585.5 1963.5,582.0 1977.2,618.1 1991.0,571.2 2004.8,571.7 2018.6,542.6 2032.3,561.5 2046.1,539.4 2059.9,514.6 2073.6,549.6 2087.4,505.7 2101.2,588.2 2115.0,474.2 2128.7,558.2 2142.5,523.8 2156.3,553.4 2170.0,529.2 2183.8,589.3 2197.6,622.2 2211.3,525.1 2225.1,545.3 2238.9,594.7 2252.7,578.5 2266.4,537.3 2280.2,579.6 2294.0,539.9 2307.7,566.9 2321.5,530.0 2335.3,569.6 2349.0,613.3 2362.8,582.3 2376.6,528.6 2390.4,511.1 2404.1,524.3 2417.9,565.6 2431.7,601.8 2445.4,521.0 2459.2,504.6 2473.0,524.8 2486.8,506.2 2500.5,641.3 2514.3,666.7 2528.1,659.4 2541.8,615.1 2555.6,555.9 2569.4,569.5 2583.1,555.2 2596.9,429.2 2610.7,579.6 2624.5,511.5 2638.2,531.5" fill="none" stroke="#000" stroke-width="4.17" stroke-linejoin="round" stroke-linecap="square"/>
<polyline points="132.0,558.7 145.8,550.5 159.5,471.8 173.3,459.6 187.1,527.3 200.9,494.7 214.6,513.6 228.4,513.6 242.2,520.0 255.9,542.6 269.7,574.9 283.5,548.7 297.2,539.5 311.0,545.0 324.8,575.8 338.6,580.1 352.3,574.9 366.1,538.0 379.9,602.9 393.6,570.9 407.4,541.2 421.2,529.2 435.0,495.0 448.7,599.7 462.5,560.2 476.3,479.5 490.0,432.7 503.8,529.8 517.6,556.7 531.3,568.1 545.1,481.7 558.9,486.5 572.7,545.6 586.4,602.0 600.2,597.2 614.0,557.0 627.7,546.6 641.5,583.6 655.3,535.5 669.0,566.5 682.8,608.9 696.6,561.5 710.4,514.1 724.1,449.2 737.9,490.6 751.7,497.6 765.4,500.8 779.2,490.3 793.0,516.6 806.8,490.6 820.5,450.8 834.3,471.6 848.1,475.4 861.8,497.6 875.6,481.8 889.4,491.3 903.1,530.2 916.9,559.3 930.7,535.6 944.5,492.2 958.2,464.4 972.0,433.4 985.8,490.5 999.5,398.3 1013.3,467.7 1027.1,454.5 1040.9,456.8 1054.6,558.0 1068.4,504.4 1082.2,483.8 1095.9,510.8 1109.7,461.3 1123.5,406.9 1137.2,507.0 1151.0,529.5 1164.8,590.7 1178.6,513.0 1192.3,481.9 1206.1,404.3 1219.9,468.8 1233.6,473.7 1247.4,568.2 1261.2,548.3 1275.0,525.7 1288.7,473.2 1302.5,539.2 1316.3,564.5 1330.0,517.8 1343.8,517.2 1357.6,517.2 1371.3,483.4 1385.1,555.9 1398.9,631.8 1412.7,510.3 1426.4,471.9 1440.2,454.1 1454.0,449.5 1467.7,435.8 1481.5,557.9 1495.3,571.3 1509.0,538.8 1522.8,572.3 1536.6,512.6 1550.4,433.1 1564.1,514.1 1577.9,503.2 1591.7,561.4 1605.4,535.9 1619.2,509.7 1633.0,526.8 1646.8,472.3 1660.5,527.5 1674.3,483.2 1688.1,429.7 1701.8,463.2 1715.6,477.7 1729.4,460.6 1743.1,398.5 1756.9,377.4 1770.7,489.4 1784.5,613.4 1798.2,520.6 1812.0,563.2 1825.8,557.0 1839.5,544.3 1853.3,481.4 1867.1,488.2 1880.9,498.9 1894.6,459.9 1908.4,489.0 1922.2,549.6 1935.9,517.3 1963.5,498.9 1977.2,569.6 1991.0,557.4 2004.8,565.0 2018.6,515.9 2032.3,474.7 2046.1,480.6 2059.9,467.1 2073.6,459.9 2087.4,439.1 2101.2,517.3 2115.0,428.9 2128.7,492.2 2142.5,441.0 2156.3,548.0 2170.0,451.8 2183.8,510.3 2197.6,570.4 2211.3,491.4 2225.1,539.9 2238.9,573.6 2252.7,562.9 2266.4,514.3 2280.2,552.1 2294.0,508.1 2307.7,541.3 2321.5,481.5 2335.3,569.6 2349.0,599.2 2362.8,550.2 2376.6,485.2 2390.4,478.0 2404.1,467.7 2417.9,537.3 2431.7,554.3 2445.4,498.3 2459.2,475.1 2473.0,469.4 2486.8,486.9 2500.5,557.5 2514.3,605.6 2528.1,598.0 2541.8,603.4 2555.6,535.3 2569.4,554.3 2583.1,522.6 2596.9,462.5 2610.7,570.1 2624.5,509.3 2638.2,509.3" fill="none" stroke="#0000ff" stroke-width="4.17" stroke-linejoin="round" stroke-linecap="square"/>
<polyline points="132.0,833.8 145.8,830.8 159.5,814.6 173.3,808.9 187.1,804.2 200.9,821.3 214.6,827.3 228.4,825.8 242.2,827.8 255.9,827.1 269.7,830.8 283.5,831.0 297.2,831.0 311.0,831.0 324.8,832.0 338.6,832.0 352.3,832.0 366.1,830.8 379.9,832.8 393.6,832.8 407.4,832.8 421.2,831.0 435.0,832.0 448.7,832.0 462.5,832.0 476.3,832.0 490.0,827.8 503.8,828.6 517.6,832.0 531.3,832.0 545.1,832.0 558.9,800.4 572.7,817.1 586.4,832.0 600.2,832.0 614.0,832.0 627.7,831.0 641.5,832.5 655.3,831.5 669.0,832.5 682.8,831.8 696.6,831.8 710.4,832.5 724.1,832.0 737.9,832.0 751.7,830.8 765.4,830.8 779.2,830.3 793.0,830.3 806.8,830.3 820.5,828.3 834.3,829.1 848.1,827.8 861.8,829.1 875.6,829.1 889.4,824.5 903.1,830.3 916.9,831.8 930.7,831.8 944.5,831.5 958.2,831.5 972.0,830.8 985.8,830.8 999.5,830.8 1013.3,831.5 1027.1,831.5 1040.9,830.8 1054.6,825.5 1068.4,826.3 1082.2,826.3 1095.9,826.3 1109.7,830.3 1123.5,830.3 1137.2,831.5 1151.0,831.5 1164.8,831.5 1178.6,831.5 1192.3,832.3 1206.1,831.3 1219.9,830.8 1233.6,831.3 1247.4,830.8 1261.2,832.3 1275.0,831.5 1288.7,830.8 1302.5,830.8 1316.3,830.8 1330.0,830.3 1343.8,831.5 1357.6,831.5 1371.3,830.8 1385.1,824.3 1398.9,832.0 1412.7,830.8 1426.4,833.3 1440.2,830.8 1454.0,823.0 1467.7,827.8 1481.5,827.8 1495.3,827.8 1509.0,829.6 1522.8,829.6 1536.6,830.3 1550.4,829.8 1564.1,829.6 1577.9,828.3 1591.7,828.6 1605.4,829.8 1619.2,824.3 1633.0,815.3 1646.8,822.5 1660.5,792.2 1674.3,805.2 1688.1,809.1 1701.8,823.0 1715.6,800.4 1729.4,819.6 1743.1,827.8 1756.9,825.5 1770.7,831.5 1784.5,831.5 1798.2,813.9 1812.0,768.1 1825.8,804.2 1839.5,811.1 1853.3,813.1 1867.1,821.1 1880.9,823.3 1894.6,818.8 1908.4,816.3 1922.2,830.3 1935.9,831.3 1963.5,831.3 1977.2,832.3 1991.0,832.0 2004.8,831.3 2018.6,830.8 2032.3,830.8 2046.1,830.8 2059.9,830.8 2073.6,831.5 2087.4,832.3 2101.2,830.3 2115.0,822.1 2128.7,830.3 2142.5,829.3 2156.3,830.8 2170.0,830.3 2183.8,830.3 2197.6,829.3 2211.3,828.3 2225.1,826.5 2238.9,830.3 2252.7,832.8 2266.4,832.8 2280.2,833.3 2294.0,825.0 2307.7,830.3 2321.5,830.3 2335.3,831.5 2349.0,828.8 2362.8,832.8" fill="none" stroke="#ff0000" stroke-width="4.17" stroke-linejoin="round" stroke-linecap="square"/>
<polyline points="2417.9,831.8 2431.7,831.0 2445.4,829.3 2459.2,830.8 2473.0,832.3 2486.8,832.3 2500.5,831.5 2514.3,830.8 2528.1,831.5 2541.8,832.8 2555.6,832.8 2569.4,831.5 2583.1,830.8 2596.9,830.3 2610.7,832.8 2624.5,831.5 2638.2,832.3" fill="none" stroke="#ff0000" stroke-width="4.17" stroke-linejoin="round" stroke-linecap="square"/>
<line x1="131.0" y1="377.3" x2="2651.0" y2="377.3" stroke="#dcdcdc" stroke-width="4.17" stroke-dasharray="4.17 6.88"/>
<line x1="131.0" y1="62.8" x2="2651.0" y2="62.8" stroke="#dcdcdc" stroke-width="4.17" stroke-dasharray="4.17 6.88"/>
</g>
<line x1="131" y1="833.0" x2="131" y2="842.7" stroke="#000" stroke-width="2.22"/>
<text x="131.4" y="873.5" font-size="27.78" text-anchor="middle">Apr 01</text>
<line x1="324" y1="833.0" x2="324" y2="842.7" stroke="#000" stroke-width="2.22"/>
<text x="324.2" y="873.5" font-size="27.78" text-anchor="middle">Apr 15</text>
<line x1="545" y1="833.0" x2="545" y2="842.7" stroke="#000" stroke-width="2.22"/>
<text x="544.5" y="873.5" font-size="27.78" text-anchor="middle">May 01</text>
<line x1="737" y1="833.0" x2="737" y2="842.7" stroke="#000" stroke-width="2.22"/>
<text x="737.3" y="873.5" font-size="27.78" text-anchor="middle">May 15</text>
<line x1="971" y1="833.0" x2="971" y2="842.7" stroke="#000" stroke-width="2.22"/>
<text x="971.4" y="873.5" font-size="27.78" text-anchor="middle">Jun 01</text>
<line x1="1164" y1="833.0" x2="1164" y2="842.7" stroke="#000" stroke-width="2.22"/>
<text x="1164.2" y="873.5" font-size="27.78" text-anchor="middle">Jun 15</text>
<line x1="1385" y1="833.0" x2="1385" y2="842.7" stroke="#000" stroke-width="2.22"/>
<text x="1384.5" y="873.5" font-size="27.78" text-anchor="middle">Jul 01</text>
<line x1="1577" y1="833.0" x2="1577" y2="842.7" stroke="#000" stroke-width="2.22"/>
<text x="1577.3" y="873.5" font-size="27.78" text-anchor="middle">Jul 15</text>
<line x1="1811" y1="833.0" x2="1811" y2="842.7" stroke="#000" stroke-width="2.22"/>
<text x="1811.4" y="873.5" font-size="27.78" text-anchor="middle">Aug 01</text>
<line x1="2004" y1="833.0" x2="2004" y2="842.7" stroke="#000" stroke-width="2.22"/>
<text x="2004.2" y="873.5" font-size="27.78" text-anchor="middle">Aug 15</text>
<line x1="2238" y1="833.0" x2="2238" y2="842.7" stroke="#000" stroke-width="2.22"/>
<text x="2238.3" y="873.5" font-size="27.78" text-anchor="middle">Sep 01</text>
<line x1="2431" y1="833.0" x2="2431" y2="842.7" stroke="#000" stroke-width="2.22"/>
<text x="2431.1" y="873.5" font-size="27.78" text-anchor="middle">Sep 15</text>
<line x1="2651" y1="833.0" x2="2651" y2="842.7" stroke="#000" stroke-width="2.22"/>
<text x="2651.4" y="873.5" font-size="27.78" text-anchor="middle">Oct 01</text>
<line x1="121.28" y1="833" x2="131.0" y2="833" stroke="#000" stroke-width="2.22"/>
<text x="112.1" y="844.0" font-size="27.78" text-anchor="end">0</text>
<line x1="121.28" y1="705" x2="131.0" y2="705" stroke="#000" stroke-width="2.22"/>
<text x="112.1" y="715.5" font-size="27.78" text-anchor="end">20</text>
<line x1="121.28" y1="576" x2="131.0" y2="576" stroke="#000" stroke-width="2.22"/>
<text x="112.1" y="587.0" font-size="27.78" text-anchor="end">40</text>
<line x1="121.28" y1="448" x2="131.0" y2="448" stroke="#000" stroke-width="2.22"/>
<text x="112.1" y="458.5" font-size="27.78" text-anchor="end">60</text>
<line x1="121.28" y1="319" x2="131.0" y2="319" stroke="#000" stroke-width="2.22"/>
<text x="112.1" y="330.0" font-size="27.78" text-anchor="end">80</text>
<line x1="121.28" y1="191" x2="131.0" y2="191" stroke="#000" stroke-width="2.22"/>
<text x="112.1" y="202.0" font-size="27.78" text-anchor="end">100</text>
<line x1="121.28" y1="63" x2="131.0" y2="63" stroke="#000" stroke-width="2.22"/>
<text x="112.1" y="74.0" font-size="27.78" text-anchor="end">120</text>
<rect x="131.0" y="62.9" width="2520.0" height="770.1" fill="none" stroke="#000" stroke-width="2.22" stroke-linejoin="miter"/>
<rect x="145.8" y="76.45" width="380.7" height="175.8" rx="4.6" ry="4.6" fill="#fff" fill-opacity="0.8" stroke="#cccccc" stroke-opacity="0.8" stroke-width="2.78"/>
<line x1="156.05" y1="99.9" x2="212.0" y2="99.9" stroke="#000" stroke-width="4.17" stroke-linecap="square"/>
<text x="234.4" y="109.6" font-size="27.78">Observed</text>
<line x1="156.05" y1="142.2" x2="212.0" y2="142.2" stroke="#0000ff" stroke-width="4.17" stroke-linecap="square"/>
<text x="234.4" y="152.0" font-size="27.78">Modeled (Basecase)</text>
<line x1="156.05" y1="184.1" x2="212.0" y2="184.1" stroke="#ff0000" stroke-width="4.17" stroke-linecap="square"/>
<text x="234.4" y="193.3" font-size="27.78">Fire Impacts</text>
<line x1="156.1" y1="226.0" x2="214.0" y2="226.0" stroke="#dcdcdc" stroke-width="4.17" stroke-dasharray="4.17 6.88" stroke-linecap="butt"/>
<text x="234.4" y="235.2" font-size="27.78">71 ppb</text>
</svg></body></html>
